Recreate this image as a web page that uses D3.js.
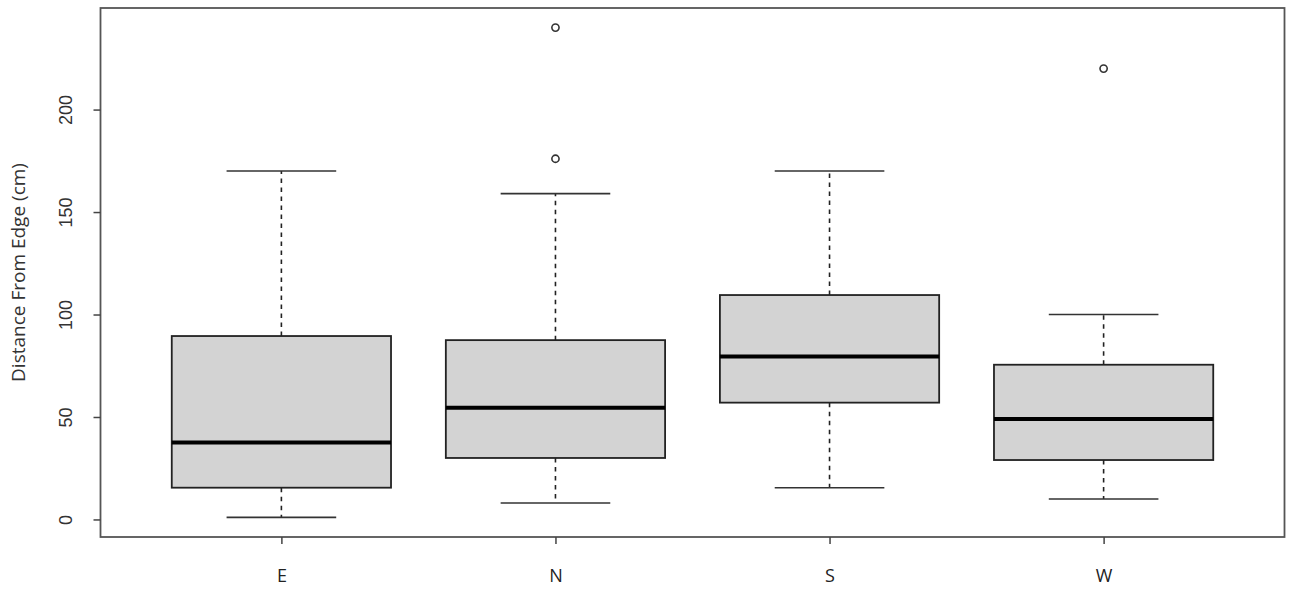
<!DOCTYPE html>
<html>
<head>
<meta charset="utf-8">
<script src="https://cdn.jsdelivr.net/npm/d3@7"></script>
<style>
  html, body { margin: 0; padding: 0; background: #fff; }
  svg { display: block; }
</style>
</head>
<body>
<svg id="chart" width="1299" height="604"></svg>
<script>
// ---- Data ----
const categories = ["E", "N", "S", "W"];
const lowerWhisker = [1, 8, 15.5, 10];
const q1 = [15.5, 30, 57, 29];
const medians = [37.5, 54.5, 79.5, 49];
const q3 = [89.5, 87.5, 109.5, 75.5];
const upperWhisker = [170, 159, 170, 100];
const outliers = [[], [176, 240], [], [220]];
const yTicks = [0, 50, 100, 150, 200];
const yLabel = "Distance From Edge (cm)";

// ---- Layout ----
const svg = d3.select("#chart");
const plot = { left: 100.5, right: 1284.5, top: 8, bottom: 537 };

// R-style extended ranges
const allVals = lowerWhisker.concat(upperWhisker, outliers.flat());
const yMin = d3.min(allVals), yMax = d3.max(allVals);
const yPad = (yMax - yMin) * 0.04;
const y = d3.scaleLinear().domain([yMin - yPad, yMax + yPad]).range([plot.bottom, plot.top]);

const x = d3.scaleLinear().domain([0.34, categories.length + 0.66]).range([plot.left, plot.right]);
const unit = x(2) - x(1);
const halfBox = unit * 0.8 / 2;
const halfCap = halfBox * 0.5;

const g = svg.append("g");

categories.forEach((c, i) => {
  const cx = x(i + 1);
  g.append("line").attr("x1", cx).attr("x2", cx).attr("y1", y(q3[i])).attr("y2", y(upperWhisker[i]))
    .attr("stroke", "#222").attr("stroke-width", 1.6).attr("stroke-dasharray", "4.5,4.5");
  g.append("line").attr("x1", cx).attr("x2", cx).attr("y1", y(q1[i])).attr("y2", y(lowerWhisker[i]))
    .attr("stroke", "#222").attr("stroke-width", 1.6).attr("stroke-dasharray", "4.5,4.5");
  [upperWhisker[i], lowerWhisker[i]].forEach(v => {
    g.append("line").attr("x1", cx - halfCap).attr("x2", cx + halfCap).attr("y1", y(v)).attr("y2", y(v))
      .attr("stroke", "#333").attr("stroke-width", 1.6);
  });
  g.append("rect").attr("x", cx - halfBox).attr("width", 2 * halfBox)
    .attr("y", y(q3[i])).attr("height", y(q1[i]) - y(q3[i]))
    .attr("fill", "#d3d3d3").attr("stroke", "#222").attr("stroke-width", 1.8);
  g.append("line").attr("x1", cx - halfBox).attr("x2", cx + halfBox).attr("y1", y(medians[i])).attr("y2", y(medians[i]))
    .attr("stroke", "#000").attr("stroke-width", 4);
  outliers[i].forEach(v => {
    g.append("circle").attr("cx", cx).attr("cy", y(v)).attr("r", 3.6)
      .attr("fill", "none").attr("stroke", "#333").attr("stroke-width", 1.6);
  });
});

// frame
svg.append("rect").attr("x", plot.left).attr("y", plot.top)
  .attr("width", plot.right - plot.left).attr("height", plot.bottom - plot.top)
  .attr("fill", "none").attr("stroke", "#555").attr("stroke-width", 1.8);

// y axis
const yAxis = d3.axisLeft(y).tickValues(yTicks).tickSize(7).tickPadding(0).tickFormat(d3.format("d"));
const ya = svg.append("g").attr("transform", `translate(${plot.left},0)`).call(yAxis);
ya.select(".domain").remove();
ya.selectAll(".tick line").attr("stroke", "#444").attr("stroke-width", 1.5);
ya.selectAll(".tick text")
  .attr("x", null).attr("dy", null)
  .attr("transform", "translate(-35,0) rotate(-90)")
  .attr("text-anchor", "middle").attr("dominant-baseline", "central")
  .attr("fill", "#333").style("font-family", "'Liberation Sans', Arial, sans-serif").style("font-size", "18px");

// x axis
const xAxis = d3.axisBottom(x).tickValues(categories.map((c, i) => i + 1)).tickSize(7).tickPadding(0)
  .tickFormat((d) => categories[d - 1]);
const xa = svg.append("g").attr("transform", `translate(0,${plot.bottom})`).call(xAxis);
xa.select(".domain").remove();
xa.selectAll(".tick line").attr("stroke", "#444").attr("stroke-width", 1.5);
xa.selectAll(".tick text").attr("y", 38).attr("dy", null).attr("dominant-baseline", "central")
  .attr("fill", "#222").style("font-family", "'Open Sans', 'Liberation Sans', sans-serif").style("font-size", "18px");

// y label
svg.append("text")
  .attr("transform", `translate(18,${(plot.top + plot.bottom) / 2}) rotate(-90)`)
  .attr("text-anchor", "middle").attr("dominant-baseline", "central")
  .attr("fill", "#333").style("font-family", "'Open Sans', 'Liberation Sans', sans-serif").style("font-size", "19px")
  .text(yLabel);
</script>
</body>
</html>
